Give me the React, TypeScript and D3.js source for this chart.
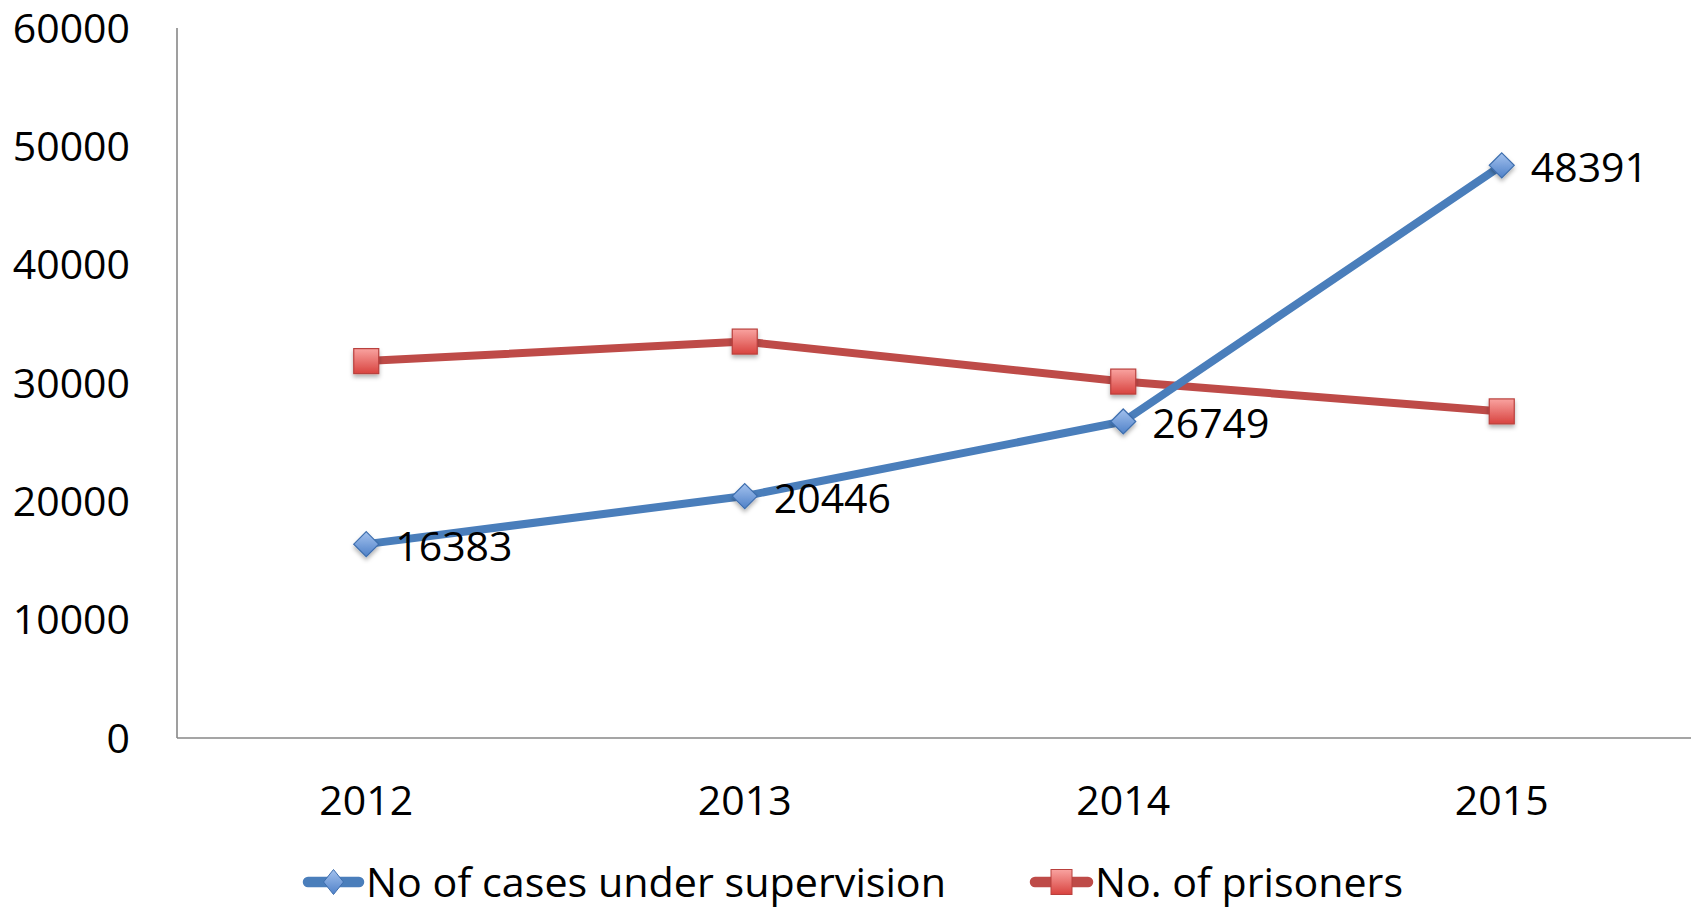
import { useEffect, useRef } from "react";
import * as d3 from "d3";

const years = ["2012", "2013", "2014", "2015"];
const casesUnderSupervision = [16383, 20446, 26749, 48391];
const prisoners = [31850, 33500, 30120, 27600];
const yTicks = [0, 10000, 20000, 30000, 40000, 50000, 60000];
const seriesNames = ["No of cases under supervision", "No. of prisoners"];

const W = 1696;
const H = 909;
const FONT = "'Open Sans', 'Liberation Sans', sans-serif";

const App = () => {
  const svgRef = useRef<SVGSVGElement | null>(null);

  useEffect(() => {
    if (!svgRef.current) return;
    const svg = d3.select(svgRef.current);
    svg.selectAll("*").remove();

    const margin = { top: 28, right: 5, bottom: 171, left: 177 };
    const x = d3
      .scaleBand()
      .domain(years)
      .range([margin.left, W - margin.right]);
    const y = d3
      .scaleLinear()
      .domain([0, 60000])
      .range([H - margin.bottom, margin.top]);
    const cx = (i: number) => (x(years[i]) as number) + x.bandwidth() / 2;

    const defs = svg.append("defs");
    const blueGrad = defs
      .append("linearGradient")
      .attr("id", "blueGrad")
      .attr("x1", 0)
      .attr("y1", 0)
      .attr("x2", 0)
      .attr("y2", 1);
    blueGrad.append("stop").attr("offset", "0%").attr("stop-color", "#a4c2ee");
    blueGrad.append("stop").attr("offset", "100%").attr("stop-color", "#4f81c8");
    const redGrad = defs
      .append("linearGradient")
      .attr("id", "redGrad")
      .attr("x1", 0)
      .attr("y1", 0)
      .attr("x2", 0)
      .attr("y2", 1);
    redGrad.append("stop").attr("offset", "0%").attr("stop-color", "#f9a3a0");
    redGrad.append("stop").attr("offset", "100%").attr("stop-color", "#d8433f");
    const shadow = defs
      .append("filter")
      .attr("id", "shadow")
      .attr("x", "-50%")
      .attr("y", "-50%")
      .attr("width", "200%")
      .attr("height", "200%");
    shadow
      .append("feDropShadow")
      .attr("dx", 0)
      .attr("dy", 3)
      .attr("stdDeviation", 2)
      .attr("flood-color", "#000")
      .attr("flood-opacity", 0.3);

    // axes (no ticks, just the lines + labels)
    const axisColor = "#878787";
    svg
      .append("line")
      .attr("x1", margin.left)
      .attr("x2", margin.left)
      .attr("y1", y(60000))
      .attr("y2", y(0))
      .attr("stroke", axisColor)
      .attr("stroke-width", 1.6);
    svg
      .append("line")
      .attr("x1", margin.left)
      .attr("x2", W - margin.right)
      .attr("y1", y(0))
      .attr("y2", y(0))
      .attr("stroke", axisColor)
      .attr("stroke-width", 1.6);

    svg
      .append("g")
      .selectAll("text")
      .data(yTicks)
      .join("text")
      .attr("x", 130)
      .attr("y", (d) => y(d))
      .attr("dy", "0.36em")
      .attr("text-anchor", "end")
      .attr("font-family", FONT)
      .attr("font-size", 41)
      .attr("fill", "#000")
      .text((d) => String(d));

    svg
      .append("g")
      .selectAll("text")
      .data(years)
      .join("text")
      .attr("x", (_, i) => cx(i))
      .attr("y", 800)
      .attr("dy", "0.36em")
      .attr("text-anchor", "middle")
      .attr("font-family", FONT)
      .attr("font-size", 41)
      .attr("fill", "#000")
      .text((d) => d);

    const line = d3
      .line<number>()
      .x((_, i) => cx(i))
      .y((d) => y(d));

    svg
      .append("path")
      .datum(prisoners)
      .attr("fill", "none")
      .attr("stroke", "#be4b48")
      .attr("stroke-width", 8)
      .attr("stroke-linejoin", "round")
      .attr("d", line);

    svg
      .append("path")
      .datum(casesUnderSupervision)
      .attr("fill", "none")
      .attr("stroke", "#4a7ebb")
      .attr("stroke-width", 8)
      .attr("stroke-linejoin", "round")
      .attr("d", line);

    const diamond = (px: number, py: number, hw: number, hh: number) =>
      `M${px},${py - hh}L${px + hw},${py}L${px},${py + hh}L${px - hw},${py}Z`;

    // red square markers
    svg
      .append("g")
      .selectAll("rect")
      .data(prisoners)
      .join("rect")
      .attr("x", (_, i) => cx(i) - 12.5)
      .attr("y", (d) => y(d) - 12.5)
      .attr("width", 25)
      .attr("height", 25)
      .attr("fill", "url(#redGrad)")
      .attr("stroke", "#b9403d")
      .attr("stroke-width", 1.2)
      .attr("filter", "url(#shadow)");

    // blue diamond markers
    svg
      .append("g")
      .selectAll("path")
      .data(casesUnderSupervision)
      .join("path")
      .attr("d", (d, i) => diamond(cx(i), y(d), 12.5, 12.5))
      .attr("fill", "url(#blueGrad)")
      .attr("stroke", "#3d6eae")
      .attr("stroke-width", 1.2)
      .attr("filter", "url(#shadow)");

    // data labels for blue series
    svg
      .append("g")
      .selectAll("text")
      .data(casesUnderSupervision)
      .join("text")
      .attr("x", (_, i) => cx(i) + 29)
      .attr("y", (d) => y(d) + 2)
      .attr("dy", "0.36em")
      .attr("font-family", FONT)
      .attr("font-size", 41)
      .attr("fill", "#000")
      .text((d) => String(d));

    // legend
    const ly = 882;
    const leg = svg.append("g");
    leg
      .append("line")
      .attr("x1", 308)
      .attr("x2", 359)
      .attr("y1", ly)
      .attr("y2", ly)
      .attr("stroke", "#4a7ebb")
      .attr("stroke-width", 10.5)
      .attr("stroke-linecap", "round");
    leg
      .append("path")
      .attr("d", diamond(333.5, ly, 10, 12.5))
      .attr("fill", "url(#blueGrad)")
      .attr("stroke", "#3d6eae")
      .attr("stroke-width", 1);
    leg
      .append("text")
      .attr("x", 366)
      .attr("y", ly)
      .attr("dy", "0.36em")
      .attr("font-family", FONT)
      .attr("font-size", 41)
      .attr("textLength", 580)
      .attr("lengthAdjust", "spacingAndGlyphs")
      .text(seriesNames[0]);

    leg
      .append("line")
      .attr("x1", 1035)
      .attr("x2", 1088)
      .attr("y1", ly)
      .attr("y2", ly)
      .attr("stroke", "#be4b48")
      .attr("stroke-width", 10.5)
      .attr("stroke-linecap", "round");
    leg
      .append("rect")
      .attr("x", 1051)
      .attr("y", ly - 12.5)
      .attr("width", 21)
      .attr("height", 25)
      .attr("fill", "url(#redGrad)")
      .attr("stroke", "#b9403d")
      .attr("stroke-width", 1);
    leg
      .append("text")
      .attr("x", 1095)
      .attr("y", ly)
      .attr("dy", "0.36em")
      .attr("font-family", FONT)
      .attr("font-size", 41)
      .attr("textLength", 308)
      .attr("lengthAdjust", "spacingAndGlyphs")
      .text(seriesNames[1]);
  }, []);

  return (
    <svg
      ref={svgRef}
      width={W}
      height={H}
      style={{ position: "absolute", left: 0, top: 0, background: "#fff" }}
    />
  );
};

export default App;
